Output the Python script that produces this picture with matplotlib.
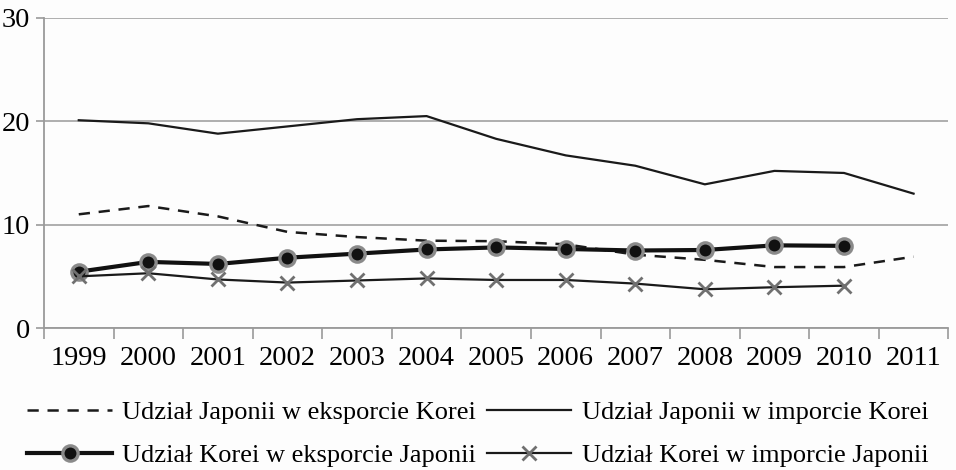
import matplotlib
matplotlib.use("Agg")
import matplotlib.pyplot as plt
import numpy as np

years = ["1999", "2000", "2001", "2002", "2003", "2004", "2005",
         "2006", "2007", "2008", "2009", "2010", "2011"]
jp_export_kr = [11.0, 11.8, 10.8, 9.3, 8.8, 8.45, 8.4, 8.1, 7.1, 6.6, 5.9, 5.9, 6.9]
jp_import_kr = [20.1, 19.8, 18.8, 19.5, 20.2, 20.5, 18.3, 16.7, 15.7, 13.9, 15.2, 15.0, 13.0]
kr_export_jp = [5.45, 6.4, 6.2, 6.8, 7.2, 7.6, 7.8, 7.65, 7.5, 7.55, 8.0, 7.95]
kr_import_jp = [5.0, 5.3, 4.7, 4.4, 4.6, 4.8, 4.65, 4.65, 4.3, 3.75, 3.95, 4.1]

labels = ["Udział Japonii w eksporcie Korei", "Udział Japonii w imporcie Korei",
          "Udział Korei w eksporcie Japonii", "Udział Korei w imporcie Japonii"]

plt.rcParams['font.family'] = ['Liberation Serif', 'DejaVu Serif']
FS = 20.5

fig = plt.figure(figsize=(9.56, 4.70), dpi=100)
fig.patch.set_facecolor("#fdfdfd")
ax = fig.add_axes([0.046, 0.302, 0.946, 0.660])
ax.set_facecolor("#fdfdfd")

x = np.arange(len(years))
l1, = ax.plot(x, jp_export_kr, color="#1a1a1a", lw=1.8, ls=(0, (4.5, 3.5)))
l2, = ax.plot(x, jp_import_kr, color="#1a1a1a", lw=1.6)
l3, = ax.plot(x[:len(kr_export_jp)], kr_export_jp, color="#111111", lw=3.0,
              marker="o", markersize=11, markerfacecolor="#111111",
              markeredgecolor="#8a8a8a", markeredgewidth=2.4)
l4, = ax.plot(x[:len(kr_import_jp)], kr_import_jp, color="#1a1a1a", lw=1.6,
              marker="x", markersize=10, markeredgecolor="#707070",
              markeredgewidth=2.0)

ax.set_xlim(-0.5, len(years) - 0.5)
ax.set_ylim(0, 30)
ax.set_yticks([0, 10, 20, 30])
ax.set_yticklabels(["0", "10", "20", "30"], fontsize=FS)
ax.set_xticks(x)
ax.set_xticklabels(years, fontsize=FS)
ax.set_xticks(np.arange(-0.5, len(years)), minor=True)
ax.tick_params(axis="x", which="major", length=0, pad=13)
ax.tick_params(axis="x", which="minor", length=8, color="#9a9a9a", width=1.2)
ax.tick_params(axis="y", length=6, color="#9a9a9a", width=1.2, pad=4)
ax.yaxis.grid(True, color="#a8a8a8", lw=1.3)
ax.set_axisbelow(True)
for s in ["top", "right"]:
    ax.spines[s].set_visible(False)
for s in ["left", "bottom"]:
    ax.spines[s].set_color("#9a9a9a")
    ax.spines[s].set_linewidth(1.3)

leg = fig.legend([l1, l3, l2, l4], [labels[0], labels[2], labels[1], labels[3]],
                 ncol=2, loc="lower center",
                 bbox_to_anchor=(0.5, 0.0), frameon=False, fontsize=19,
                 handlelength=3.2, columnspacing=0.4, handletextpad=0.4,
                 labelspacing=0.75, borderpad=0.1, borderaxespad=0.0)

fig.savefig("out.png", dpi=100, facecolor=fig.get_facecolor())
